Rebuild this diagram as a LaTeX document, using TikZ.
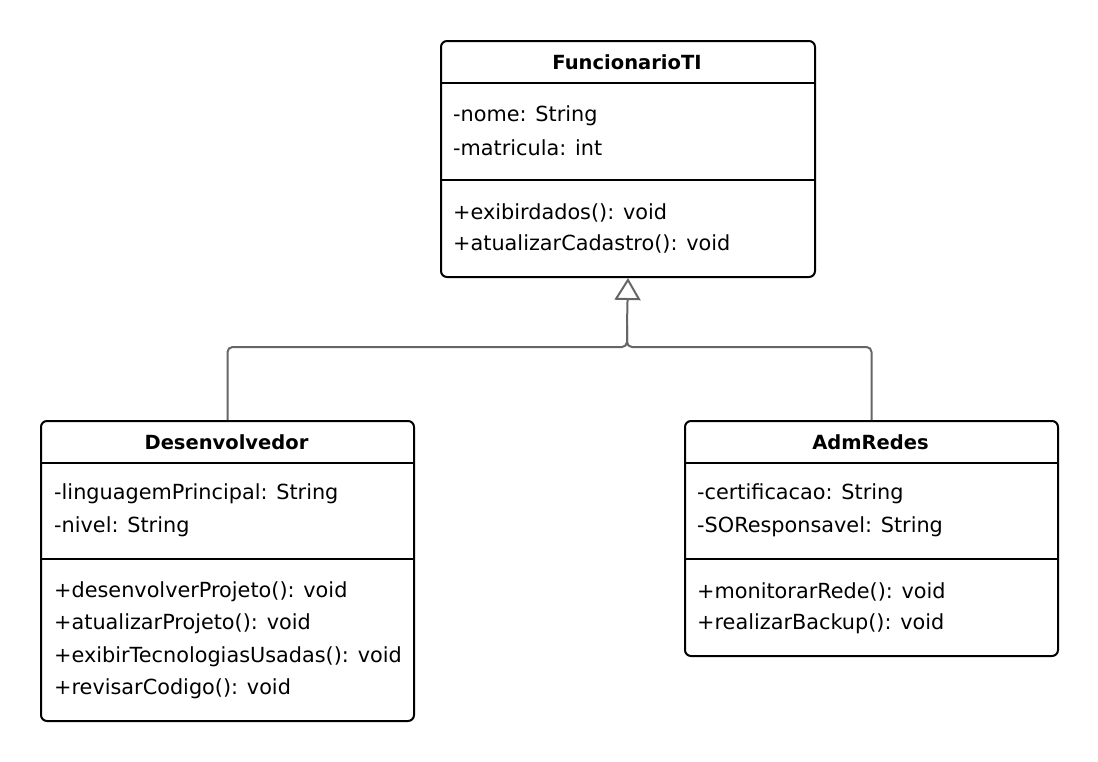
\documentclass[tikz,border=0pt]{standalone}
\usepackage{fontspec}
\setmainfont{DejaVu Sans}
\usetikzlibrary{arrows.meta}
\tikzset{
  classbox/.style={draw=black, line width=2pt, rounded corners=6pt, fill=white, anchor=north west, inner sep=0pt},
  sep/.style={draw=black, line width=2pt},
  title/.style={font=\fontsize{19.5}{23}\selectfont\bfseries, anchor=center, inner sep=0pt},
  member/.style={font=\fontsize{20.8}{25}\selectfont, anchor=west, inner sep=0pt},
  inherit/.style={draw=black!60, line width=2pt, rounded corners=5pt},
  gen/.style={-{Triangle[open, length=22pt, width=26pt, line width=2pt]}, fill=white}
}
\begin{document}
\begin{tikzpicture}[x=1pt, y=-1pt]
\useasboundingbox (0,0) rectangle (1098,761);
% FuncionarioTI
\node[classbox, minimum width=374pt, minimum height=236pt] (fun) at (440,40) {};
\draw[sep] (440,83) -- (814,83);
\draw[sep] (440,180) -- (814,180);
\node[title] (funT) at (627,62) {FuncionarioTI};
\node[member] (fun1) at (453,116) {-nome: String};
\node[member] (fun2) at (453,148) {-matricula: int};
\node[member] (fun3) at (453,213) {+exibirdados(): void};
\node[member] (fun4) at (453,244) {+atualizarCadastro(): void};
% Desenvolvedor
\node[classbox, minimum width=373pt, minimum height=300pt] (dev) at (40,420) {};
\draw[sep] (40,463) -- (413,463);
\draw[sep] (40,559) -- (413,559);
\node[title] (devT) at (226.5,442) {Desenvolvedor};
\node[member] (dev1) at (54,494) {-linguagemPrincipal: String};
\node[member] (dev2) at (54,527) {-nivel: String};
\node[member] (dev3) at (54,592) {+desenvolverProjeto(): void};
\node[member] (dev4) at (54,624) {+atualizarProjeto(): void};
\node[member] (dev5) at (54,657) {+exibirTecnologiasUsadas(): void};
\node[member] (dev6) at (54,689) {+revisarCodigo(): void};
% AdmRedes
\node[classbox, minimum width=373pt, minimum height=235pt] (adm) at (684,420) {};
\draw[sep] (684,463) -- (1057,463);
\draw[sep] (684,559) -- (1057,559);
\node[title] (admT) at (870.5,442) {AdmRedes};
\node[member] (adm1) at (697,494) {-certificacao: String};
\node[member] (adm2) at (697,527) {-SOResponsavel: String};
\node[member] (adm3) at (697,592) {+monitorarRede(): void};
\node[member] (adm4) at (697,624) {+realizarBackup(): void};
% generalization
\coordinate (j) at (627,347);
\coordinate (k) at (627,325);
\draw[inherit] (dev.north) |- (j) -- (k);
\draw[inherit] (adm.north) |- (j) -- (k);
\draw[inherit, gen] (k) -- (fun.south);
\end{tikzpicture}
\end{document}
